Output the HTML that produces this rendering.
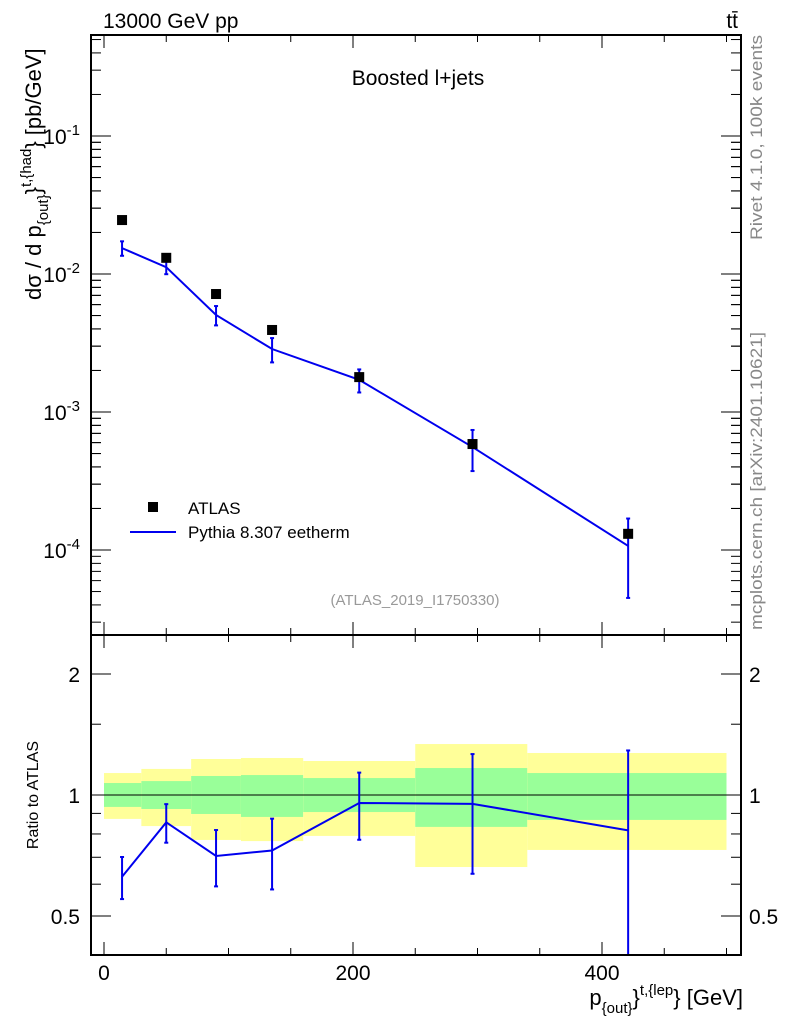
<!DOCTYPE html>
<html><head><meta charset="utf-8"><style>
body{margin:0;background:#fff;}
svg text{font-family:"Liberation Sans",sans-serif;}
</style></head><body>
<svg id="c" width="786" height="1024" viewBox="0 0 786 1024" xmlns="http://www.w3.org/2000/svg"></svg>
<script>
const binEdges=[0,30,70,110,160,250,340,500];
const xVals=[14.5,50,90,135,205,296,421];
const atlasVals=[0.0246,0.0131,0.00716,0.00393,0.00179,0.000586,0.000131];
const mcVals=[0.0154,0.0112,0.00505,0.00286,0.00171,0.000557,0.000107];
const mcRelErr=[0.12,0.11,0.16,0.2,0.19,0.33,0.58];
const yellowUp=[1.134,1.161,1.229,1.236,1.215,1.339,1.272];
const yellowDn=[0.872,0.837,0.773,0.768,0.791,0.662,0.730];
const greenUp=[1.071,1.083,1.115,1.121,1.102,1.167,1.134];
const greenDn=[0.934,0.923,0.897,0.882,0.907,0.833,0.867];
const xTicks=[0,200,400];
const mainTicks=[-4,-3,-2,-1];
const ratioTicks=[0.5,1,2];

const NS="http://www.w3.org/2000/svg";
const svg=document.getElementById('c');
const L=91,R=741,T=35,M=635,B=955;
const X=v=>104+(v-0)*1.245;
const Y=v=>136-(Math.log10(v)+1)*138;
const YR=v=>795-Math.log10(v)*402;
function el(tag,attrs,name,parent){const e=document.createElementNS(NS,tag);for(const k in attrs)e.setAttribute(k,attrs[k]);


(parent||svg).appendChild(e);return e;}
function txt(x,y,s,size,name,anchor,fill){const t=el('text',{x:x,y:y,'font-size':size,'text-anchor':anchor||'start',fill:fill||'#000'},name);t.textContent=s;return t;}

const defs=el('defs',{},'defs');
const cp1=el('clipPath',{id:'cm'},'clip-main',defs);el('rect',{x:L,y:T,width:R-L,height:M-T},'clip-rect',cp1);
const cp2=el('clipPath',{id:'cr'},'clip-ratio',defs);el('rect',{x:L,y:M,width:R-L,height:B-M},'clip-rect',cp2);

const gR=el('g',{'clip-path':'url(#cr)'},'ratio-plot');
for(let i=0;i<binEdges.length-1;i++){
 el('rect',{x:X(binEdges[i]),y:YR(yellowUp[i]),width:X(binEdges[i+1])-X(binEdges[i]),height:YR(yellowDn[i])-YR(yellowUp[i]),fill:'#ffff99'},'total-uncertainty-band',gR);
 el('rect',{x:X(binEdges[i]),y:YR(greenUp[i]),width:X(binEdges[i+1])-X(binEdges[i]),height:YR(greenDn[i])-YR(greenUp[i]),fill:'#99ff99'},'stat-uncertainty-band',gR);
}
el('line',{x1:L,x2:R,y1:YR(1),y2:YR(1),stroke:'#000','stroke-width':1},'ratio-unity-line',gR);
const rat=mcVals.map((v,i)=>v/atlasVals[i]);
el('polyline',{points:xVals.map((x,i)=>X(x)+','+YR(rat[i])).join(' '),fill:'none',stroke:'#0000ee','stroke-width':2},'ratio-line',gR);
xVals.forEach((x,i)=>{const up=YR(rat[i]*(1+mcRelErr[i])),dn=YR(Math.max(rat[i]*(1-mcRelErr[i]),0.01));
 el('line',{x1:X(x),x2:X(x),y1:up,y2:dn,stroke:'#0000ee','stroke-width':2},'ratio-error-bar',gR);
 el('line',{x1:X(x)-2,x2:X(x)+2,y1:up,y2:up,stroke:'#0000ee','stroke-width':2},'ratio-error-cap',gR);
 el('line',{x1:X(x)-2,x2:X(x)+2,y1:dn,y2:dn,stroke:'#0000ee','stroke-width':2},'ratio-error-cap',gR);});

const gM=el('g',{'clip-path':'url(#cm)'},'main-plot');
el('polyline',{points:xVals.map((x,i)=>X(x)+','+Y(mcVals[i])).join(' '),fill:'none',stroke:'#0000ee','stroke-width':2},'pythia-line',gM);
xVals.forEach((x,i)=>{const up=Y(mcVals[i]*(1+mcRelErr[i])),dn=Y(mcVals[i]*(1-mcRelErr[i]));
 el('line',{x1:X(x),x2:X(x),y1:up,y2:dn,stroke:'#0000ee','stroke-width':2},'pythia-error-bar',gM);
 el('line',{x1:X(x)-2,x2:X(x)+2,y1:up,y2:up,stroke:'#0000ee','stroke-width':2},'pythia-error-cap',gM);
 el('line',{x1:X(x)-2,x2:X(x)+2,y1:dn,y2:dn,stroke:'#0000ee','stroke-width':2},'pythia-error-cap',gM);
 el('rect',{x:X(x)-5,y:Y(atlasVals[i])-5,width:10,height:10,fill:'#000'},'atlas-point',gM);});

el('rect',{x:L,y:T,width:R-L,height:M-T,fill:'none',stroke:'#000','stroke-width':2},'main-frame');
el('rect',{x:L,y:M,width:R-L,height:B-M,fill:'none',stroke:'#000','stroke-width':2},'ratio-frame');

for(let v=0;v<=500;v+=50){const maj=v%200===0;const len=maj?13:7;
 [[T,1],[M,-1],[M,1],[B,-1]].forEach(([y0,d])=>el('line',{x1:X(v),x2:X(v),y1:y0,y2:y0+d*len,stroke:'#000','stroke-width':1},'x-tick'));}
xTicks.forEach(v=>txt(X(v),980,String(v),21,'x-tick-label','middle'));

mainTicks.forEach(d=>{
 for(let k=1;k<10;k++){const v=k*Math.pow(10,d);const y=Y(v);if(y<T||y>M)continue;const len=k===1?20:10;
  el('line',{x1:L,x2:L+len,y1:y,y2:y,stroke:'#000','stroke-width':1},'y-tick');
  el('line',{x1:R,x2:R-len,y1:y,y2:y,stroke:'#000','stroke-width':1},'y-tick');}
 for(let k=1;k<10;k++){const v=k*Math.pow(10,d-1);const y=Y(v);if(y<T||y>M)continue;const len=k===1?20:10;
  el('line',{x1:L,x2:L+len,y1:y,y2:y,stroke:'#000','stroke-width':1},'y-tick');
  el('line',{x1:R,x2:R-len,y1:y,y2:y,stroke:'#000','stroke-width':1},'y-tick');}
 const t=el('text',{x:80,y:Y(Math.pow(10,d))+8,'font-size':21,'text-anchor':'end'},'y-tick-label');
 t.innerHTML='10<tspan dy="-9" font-size="15">'+d+'</tspan>';
});
ratioTicks.forEach(v=>{const y=YR(v);
 el('line',{x1:L,x2:L+20,y1:y,y2:y,stroke:'#000','stroke-width':1},'ratio-tick');
 el('line',{x1:R,x2:R-20,y1:y,y2:y,stroke:'#000','stroke-width':1},'ratio-tick');
 txt(80,y+8,String(v),21,'ratio-tick-label','end');txt(749,y+8,String(v),21,'ratio-tick-label-right','start');});
[0.4,0.6,0.7,0.8,0.9,1.5].forEach(v=>{const y=YR(v);if(y<M||y>B)return;
 el('line',{x1:L,x2:L+10,y1:y,y2:y,stroke:'#000','stroke-width':1},'ratio-minor-tick');
 el('line',{x1:R,x2:R-10,y1:y,y2:y,stroke:'#000','stroke-width':1},'ratio-minor-tick');});

txt(103,28,'13000 GeV pp',21,'energy-label');
txt(738,28,'tt̄',21,'process-label','end');
txt(418,85,'Boosted l+jets',21,'plot-title','middle');
txt(415,605,'(ATLAS_2019_I1750330)',15,'analysis-label','middle','#999');
const yl=el('text',{transform:'translate(41,300) rotate(-90)','font-size':22,'text-anchor':'start'},'y-axis-title');
yl.innerHTML='dσ / d p<tspan dy="7" font-size="15">{out}</tspan><tspan dy="-7">}</tspan><tspan dy="-10" font-size="15">t,{had</tspan><tspan dy="10">} [pb/GeV]</tspan>';
const rl=el('text',{transform:'translate(38,795) rotate(-90)','font-size':16,'text-anchor':'middle'},'ratio-axis-title');rl.textContent='Ratio to ATLAS';
const xl=el('text',{x:743,y:1005,'font-size':22,'text-anchor':'end'},'x-axis-title');
xl.innerHTML='p<tspan dy="8" font-size="15">{out}</tspan><tspan dy="-8">}</tspan><tspan dy="-10" font-size="15">t,{lep</tspan><tspan dy="10">} [GeV]</tspan>';
const r1=el('text',{transform:'translate(762,240) rotate(-90)','font-size':17,fill:'#888',textLength:205,lengthAdjust:'spacingAndGlyphs'},'rivet-version');r1.textContent='Rivet 4.1.0,  100k events';
const r2=el('text',{transform:'translate(762,630) rotate(-90)','font-size':17,fill:'#888',textLength:298,lengthAdjust:'spacingAndGlyphs'},'mcplots-credit');r2.textContent='mcplots.cern.ch [arXiv:2401.10621]';
el('rect',{x:148,y:502,width:10,height:10,fill:'#000'},'legend-atlas-marker');
txt(188,514,'ATLAS',17,'legend-atlas-label');
el('line',{x1:130,x2:176,y1:532,y2:532,stroke:'#0000ee','stroke-width':2},'legend-pythia-line');
txt(188,538,'Pythia 8.307 eetherm',17,'legend-pythia-label');
</script>
</body></html>
